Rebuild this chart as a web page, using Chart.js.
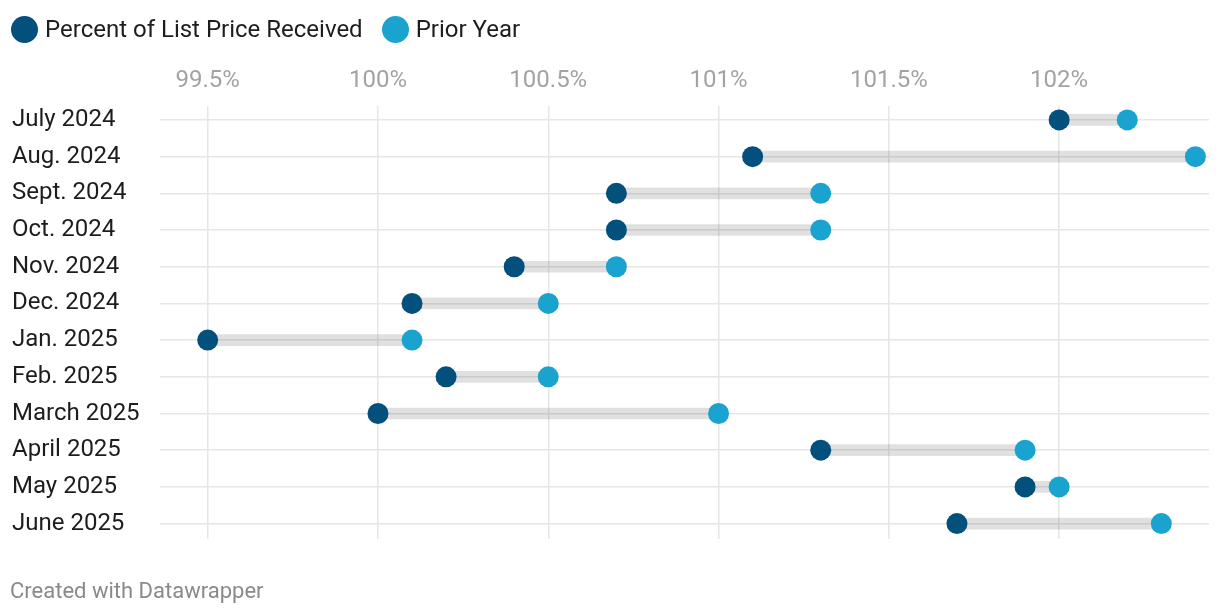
<!DOCTYPE html>
<html>
<head>
<meta charset="utf-8">
<script src="https://cdn.jsdelivr.net/npm/chart.js@4"></script>
<style>
    body { margin: 0; background: #fff; font-family: Roboto, sans-serif; }
    #wrap { position: relative; width: 1220px; height: 616px; }
    #legend { position: absolute; left: 11px; top: 15px; display: flex; align-items: center; font-size: 24px; color: #1d1d1d; }
    #legend span.dot { display: inline-block; width: 27px; height: 27px; border-radius: 50%; margin-right: 7px; }
    #legend span.item { display: flex; align-items: center; margin-right: 19px; }
    #footer { position: absolute; left: 10px; top: 578px; font-size: 22px; color: #8a8a8a; }
</style>
</head>
<body>
<div id="wrap">
    <canvas id="dumbbellChart"></canvas>
    <div id="legend">
        <span class="item"><span class="dot" style="background:#04507c"></span>Percent of List Price Received</span>
        <span class="item"><span class="dot" style="background:#1ba3cf"></span>Prior Year</span>
    </div>
    <div id="footer">Created with Datawrapper</div>
</div>
<script>
// 数据
const months = ['July 2024', 'Aug. 2024', 'Sept. 2024', 'Oct. 2024', 'Nov. 2024', 'Dec. 2024',
    'Jan. 2025', 'Feb. 2025', 'March 2025', 'April 2025', 'May 2025', 'June 2025'];
const pctReceived = [102.0, 101.1, 100.7, 100.7, 100.4, 100.1, 99.5, 100.2, 100.0, 101.3, 101.9, 101.7];
const priorYear = [102.2, 102.4, 101.3, 101.3, 100.7, 100.5, 100.1, 100.5, 101.0, 101.9, 102.0, 102.3];
const xTicks = [99.5, 100, 100.5, 101, 101.5, 102];

const darkBlue = '#04507c';
const lightBlue = '#1ba3cf';

document.addEventListener('DOMContentLoaded', function() {
    const ctx = document.getElementById('dumbbellChart').getContext('2d');

    // 连接条（浮动条）
    const rangeData = months.map((m, i) => ({ x: [pctReceived[i], priorYear[i]], y: i }));
    const curData = months.map((m, i) => ({ x: pctReceived[i], y: i }));
    const priorData = months.map((m, i) => ({ x: priorYear[i], y: i }));

    new Chart(ctx, {
        data: {
            datasets: [
                {
                    type: 'bar',
                    label: 'range',
                    indexAxis: 'y',
                    data: rangeData,
                    backgroundColor: 'rgba(0, 0, 0, 0.12)',
                    borderWidth: 0,
                    barThickness: 11,
                    order: 3
                },
                {
                    type: 'scatter',
                    label: 'Percent of List Price Received',
                    data: curData,
                    backgroundColor: darkBlue,
                    borderWidth: 0,
                    pointRadius: 10.5,
                    pointHoverRadius: 10.5,
                    order: 1
                },
                {
                    type: 'scatter',
                    label: 'Prior Year',
                    data: priorData,
                    backgroundColor: lightBlue,
                    borderWidth: 0,
                    pointRadius: 10.5,
                    pointHoverRadius: 10.5,
                    order: 2
                }
            ]
        },
        options: {
            responsive: true,
            maintainAspectRatio: false,
            animation: false,
            layout: {
                padding: { left: 12, right: 11, top: 0, bottom: 77 }
            },
            plugins: {
                legend: { display: false },
                tooltip: { enabled: false }
            },
            scales: {
                x: {
                    type: 'linear',
                    position: 'top',
                    min: 99.36,
                    max: 102.44,
                    afterBuildTicks: scale => { scale.ticks = xTicks.map(v => ({ value: v })); },
                    afterFit: scale => { scale.height = 106; },
                    grid: { color: '#e6e6e6', lineWidth: 1.5, drawTicks: false },
                    border: { display: false },
                    ticks: {
                        padding: 11,
                        color: '#a3a3a3',
                        font: { family: 'Roboto', size: 24 },
                        callback: v => v + '%'
                    }
                },
                y: {
                    type: 'linear',
                    reverse: true,
                    offset: false,
                    min: -0.38,
                    max: 11.42,
                    afterBuildTicks: scale => { scale.ticks = months.map((m, i) => ({ value: i })); },
                    afterFit: scale => { scale.width = 148; },
                    grid: { color: '#e6e6e6', lineWidth: 1.5, drawTicks: false, offset: false },
                    border: { display: false },
                    ticks: {
                        crossAlign: 'far',
                        color: '#1d1d1d',
                        font: { family: 'Roboto', size: 24 },
                        callback: v => months[v]
                    }
                }
            }
        }
    });
});
</script>
</body>
</html>
